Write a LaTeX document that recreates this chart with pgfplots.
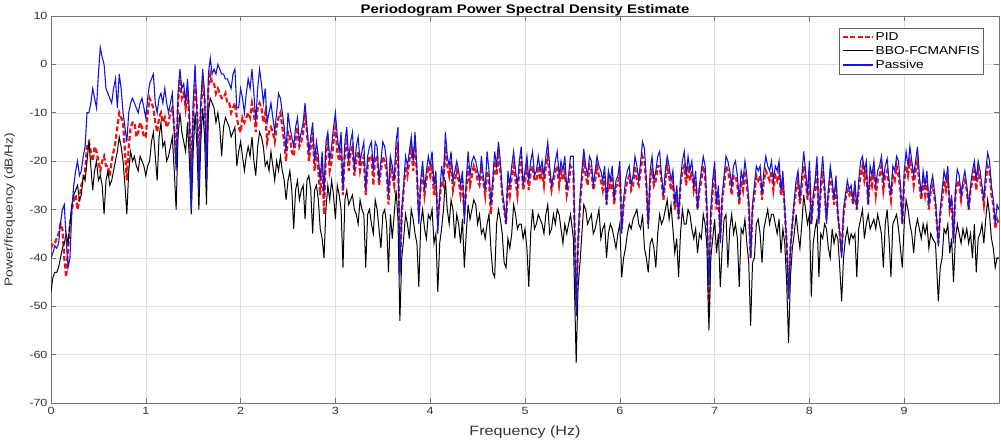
\documentclass[border=0pt]{standalone}
\usepackage{pgfplots}
\pgfplotsset{compat=1.18}
\usepackage{pgfplotstable}
\usepackage{fontspec}
\setmainfont[FakeStretch=1.2]{Liberation Sans}
\definecolor{psvblue}{rgb}{0.08,0.08,0.88}
\definecolor{pidred}{rgb}{0.92,0.08,0.08}
\pgfplotstableread{
x P R B
0.00 -40 -38 -47
0.02 -39 -37 -44
0.04 -37.5 -37 -43
0.06 -38 -36 -43
0.08 -37 -35 -42
0.10 -33 -33 -40
0.12 -30 -34 -38
0.14 -29 -40 -37
0.16 -36 -44 -35
0.18 -42 -38 -37
0.20 -40 -33 -33
0.22 -30 -30 -29
0.24 -25 -28 -27
0.26 -22 -27 -26
0.28 -20 -30 -25
0.30 -23 -28 -28
0.32 -22 -25 -27
0.34 -19 -24 -23
0.36 -17 -22 -24
0.38 -10 -17 -20
0.40 -10 -16 -16
0.42 -8 -18 -21
0.44 -5 -20 -26
0.46 -7 -17 -22
0.48 -9 -18 -20
0.50 -2 -20 -24
0.52 3.5 -22 -23
0.54 1.5 -20 -25
0.56 0 -19 -31
0.58 -5 -21 -24
0.60 -6 -21 -22
0.62 -7 -23 -25
0.64 -8 -20 -24
0.66 -5 -18 -22
0.68 -3 -16 -20
0.70 -9 -13 -18
0.72 -2 -10 -15
0.74 -5 -11 -17
0.76 -10 -12 -20
0.78 -13 -18 -25
0.80 -16 -24 -31
0.82 -10 -17 -22
0.84 -8 -13 -18
0.86 -7 -12 -20
0.88 -8 -12 -19
0.90 -9 -15 -21
0.92 -10 -14 -22
0.94 -8 -12 -19
0.96 -7 -13 -20
0.98 -9 -15 -21
1.00 -11 -15 -23
1.02 -7 -10 -21
1.04 -4 -7 -20
1.06 -3 -8 -16
1.08 -2 -9 -14
1.10 -8 -12 -19
1.12 -10 -14 -24
1.14 -7 -11 -15
1.16 -6 -10 -12
1.18 -8 -12 -17
1.20 -5 -11 -16
1.22 -8 -13 -20
1.24 -10 -12 -19
1.26 -8 -10 -17
1.28 -6 -9 -15
1.30 -14 -13 -22
1.32 -22 -20 -30
1.34 -6 -8 -15
1.36 -1 -3 -10
1.38 -5 -7 -14
1.40 -4 -6 -16
1.42 -8 -9 -18
1.44 -3 -5 -12
1.46 -10 -12 -20
1.48 -30 -22 -31
1.50 -8 -10 -18
1.52 0 -4 -10
1.54 -10 -9 -17
1.56 -26 -20 -30
1.58 -8 -9 -16
1.60 -1 -4 -9
1.62 -6 -7 -15
1.64 -24 -18 -29
1.66 -2 -5 -10
1.68 1.3 -2 -7
1.70 -2 -4 -8
1.72 -1 -4 -9
1.74 -2 -6 -12
1.76 0 -5 -10
1.78 -1 -6 -13
1.80 -2 -7 -19
1.82 -2 -7 -13
1.84 -3 -6 -11
1.86 -3 -8 -12
1.88 -4 -8 -13
1.90 -5 -10 -15
1.92 -2 -9 -14
1.94 -1 -8 -13
1.96 -9 -11 -21
1.98 -9 -13 -18
2.00 -5 -14 -16
2.02 -7 -11 -19
2.04 -10 -12 -22
2.06 -6 -11 -19
2.08 -3 -10 -17
2.10 -5 -11 -19
2.12 -1 -8 -15
2.14 -6 -10 -20
2.16 -12 -14 -23
2.18 -5 -9 -17
2.20 -1 -8 -14
2.22 -4 -9 -15
2.24 -8 -12 -17
2.26 -5 -10 -21
2.28 -12 -16 -20
2.30 -10 -14 -22
2.32 -8 -13 -18
2.34 -11 -14 -21
2.36 -14 -16 -24
2.38 -10 -13 -20
2.40 -6 -11 -22
2.42 -7 -10 -19
2.44 -10 -13 -22
2.46 -13 -16 -24
2.48 -18 -20 -28
2.50 -10 -14 -24
2.52 -13 -15 -22
2.54 -15 -18 -26
2.56 -17 -19 -34
2.58 -13 -16 -26
2.60 -11 -13 -24
2.62 -16 -17 -28
2.64 -14 -16 -26
2.66 -12 -14 -25
2.68 -8 -10 -32
2.70 -13 -14 -24
2.72 -18 -20 -23
2.74 -15 -17 -26
2.76 -12 -14 -35
2.78 -20 -22 -26
2.80 -16 -18 -25
2.82 -19 -22 -28
2.84 -24 -27 -34
2.86 -18 -20 -36
2.88 -27 -31 -40
2.90 -16 -18 -30
2.92 -14 -16 -25
2.94 -20 -22 -28
2.96 -17 -20 -24
2.98 -13 -16 -27
3.00 -10 -13 -32
3.02 -15 -18 -25
3.04 -18 -20 -27
3.06 -14 -17 -30
3.08 -26 -27 -42
3.10 -16 -18 -28
3.12 -13 -16 -26
3.14 -20 -22 -29
3.16 -16 -18 -28
3.18 -14 -17 -27
3.20 -22 -23 -30
3.22 -17 -20 -31
3.24 -15 -18 -33
3.26 -20 -22 -28
3.28 -18 -20 -30
3.30 -16 -19 -31
3.32 -26 -27 -42
3.34 -19 -21 -31
3.36 -17 -19 -30
3.38 -16 -19 -33
3.40 -22 -25 -35
3.42 -16 -19 -28
3.44 -17 -19 -30
3.46 -24 -25 -34
3.48 -20 -22 -38
3.50 -16 -19 -31
3.52 -17 -20 -30
3.54 -20 -22 -33
3.56 -27 -29 -43
3.58 -19 -21 -31
3.60 -21 -23 -36
3.62 -24 -25 -31
3.64 -16 -19 -26
3.66 -13 -16 -32
3.68 -44 -43 -53
3.70 -30 -31 -40
3.72 -25 -26 -36
3.74 -19 -21 -31
3.76 -21 -23 -33
3.78 -18 -20 -36
3.80 -15 -17 -30
3.82 -20 -22 -32
3.84 -14 -16 -35
3.86 -22 -23 -37
3.88 -33 -31 -46
3.90 -24 -25 -33
3.92 -20 -22 -30
3.94 -26 -27 -34
3.96 -22 -24 -36
3.98 -19 -21 -31
4.00 -21 -23 -32
4.02 -18 -21 -30
4.04 -25 -27 -37
4.06 -22 -24 -35
4.08 -35 -32 -47
4.10 -27 -28 -37
4.12 -21 -24 -34
4.14 -24 -25 -30
4.16 -14 -17 -24
4.18 -19 -21 -30
4.20 -21 -23 -33
4.22 -18 -20 -28
4.24 -24 -26 -30
4.26 -22 -24 -36
4.28 -20 -22 -31
4.30 -22 -24 -33
4.32 -25 -27 -37
4.34 -22 -24 -32
4.36 -33 -31 -42
4.38 -24 -26 -35
4.40 -18 -21 -29
4.42 -23 -25 -32
4.44 -20 -23 -30
4.46 -19 -21 -28
4.48 -20 -22 -29
4.50 -22 -24 -33
4.52 -24 -25 -31
4.54 -19 -22 -35
4.56 -23 -24 -34
4.58 -26 -27 -36
4.60 -18 -22 -33
4.62 -22 -24 -31
4.64 -29 -31 -38
4.66 -24 -25 -43
4.68 -18 -20 -44
4.70 -21 -23 -33
4.72 -16 -19 -30
4.74 -20 -22 -32
4.76 -26 -27 -35
4.78 -29 -30 -41
4.80 -33 -33 -42
4.82 -22 -24 -36
4.84 -25 -27 -38
4.86 -21 -23 -35
4.88 -18 -21 -29
4.90 -22 -24 -31
4.92 -25 -27 -34
4.94 -20 -22 -33
4.96 -17 -19 -33
4.98 -25 -26 -36
5.00 -22 -24 -34
5.02 -19 -21 -38
5.04 -24 -26 -46
5.06 -20 -22 -35
5.08 -18 -21 -30
5.10 -23 -24 -34
5.12 -22 -24 -33
5.14 -19 -21 -31
5.16 -22 -24 -32
5.18 -20 -22 -33
5.20 -23 -25 -35
5.22 -19 -21 -31
5.24 -16 -19 -29
5.26 -21 -23 -35
5.28 -25 -26 -34
5.30 -23 -24 -31
5.32 -20 -22 -33
5.34 -18 -21 -30
5.36 -23 -25 -31
5.38 -20 -22 -34
5.40 -22 -24 -37
5.42 -19 -22 -33
5.44 -26 -27 -35
5.46 -23 -25 -33
5.48 -19 -21 -31
5.51 -19 -22 -36
5.54 -52 -50 -61.7
5.56 -36 -37 -46
5.58 -28 -29 -41
5.60 -22 -24 -35
5.62 -17.5 -20 -29
5.64 -21 -23 -30
5.66 -23 -25 -33
5.68 -19 -21 -32
5.70 -20 -22 -31
5.72 -25 -26 -35
5.74 -22 -24 -34
5.76 -19 -21 -32
5.78 -21 -23 -30
5.80 -22 -24 -36
5.82 -24 -26 -34
5.84 -21 -23 -33
5.86 -29 -29 -40
5.88 -22 -24 -35
5.90 -24 -26 -33
5.92 -21 -23 -34
5.94 -28 -29 -36
5.96 -24 -25 -38
5.98 -23 -25 -35
6.00 -20 -22 -33
6.02 -35 -34 -44
6.04 -28 -29 -40
6.06 -24 -26 -38
6.08 -22 -24 -35
6.10 -21 -23 -33
6.12 -25 -26 -34
6.14 -23 -25 -32
6.16 -19 -21 -31
6.18 -21 -24 -30
6.20 -24 -25 -33
6.22 -20 -22 -34
6.24 -16 -19 -31
6.26 -17.5 -20 -38
6.28 -24 -25 -40
6.30 -34 -33 -43
6.32 -22 -24 -37
6.34 -19 -22 -36
6.36 -24 -25 -38
6.38 -22 -24 -42
6.40 -19 -21 -35
6.42 -18 -21 -31
6.44 -23 -24 -33
6.46 -27 -28 -32
6.48 -22 -24 -30
6.50 -19 -21 -28
6.52 -21 -23 -32
6.54 -24 -26 -29
6.56 -22 -24 -34
6.58 -29 -30 -39
6.60 -25 -27 -36
6.62 -32 -32 -44
6.64 -24 -25 -35
6.66 -20 -22 -30
6.68 -18 -21 -33
6.70 -23 -25 -33
6.72 -19 -21 -30
6.74 -22 -24 -31
6.76 -20 -22 -34
6.78 -25 -26 -36
6.80 -22 -24 -34
6.82 -30 -30 -39
6.84 -25 -26 -35
6.86 -22 -24 -36
6.88 -19 -21 -31
6.90 -21 -23 -33
6.92 -30 -31 -38
6.94 -46 -52 -55
6.96 -30 -32 -40
6.98 -24 -26 -36
7.00 -20 -22 -32
7.02 -29 -30 -39
7.04 -25 -27 -35
7.06 -37 -36 -46
7.08 -27 -28 -38
7.10 -23 -25 -32
7.12 -19 -21 -31
7.14 -20 -22 -42
7.16 -22 -24 -34
7.18 -25 -27 -31
7.20 -21 -23 -35
7.22 -20 -23 -33
7.24 -23 -25 -36
7.26 -28 -29 -46
7.28 -22 -24 -34
7.30 -24 -26 -35
7.32 -20 -22 -32
7.34 -23 -25 -37
7.36 -28 -29 -41
7.38 -40 -40 -54
7.40 -29 -30 -41
7.42 -25 -27 -40
7.44 -21 -23 -33
7.46 -22 -24 -32
7.48 -21 -23 -35
7.50 -27 -28 -41
7.52 -22 -24 -34
7.54 -19 -22 -32
7.56 -21 -23 -30
7.58 -22 -24 -33
7.60 -20 -22 -31
7.62 -24 -26 -31
7.64 -21 -23 -33
7.66 -22 -24 -35
7.68 -20 -22 -32
7.70 -26 -27 -39
7.72 -22 -24 -34
7.74 -30 -30 -37
7.76 -37 -37 -45
7.78 -48.6 -47 -57.6
7.80 -38 -38 -44
7.82 -33 -33 -38
7.84 -28 -29 -35
7.86 -24 -26 -31
7.88 -22 -24 -35
7.90 -28 -29 -38
7.92 -23 -25 -33
7.94 -18 -21 -27
7.96 -22 -24 -30
7.98 -27 -28 -33
8.00 -20 -22 -31
8.02 -33 -33 -48
8.04 -27 -28 -37
8.06 -24 -26 -34
8.08 -19 -21 -32
8.10 -33 -32 -44
8.12 -24 -26 -35
8.14 -19 -22 -36
8.16 -25 -26 -33
8.18 -33 -32 -34
8.20 -26 -27 -38
8.22 -21 -23 -40
8.24 -24 -25 -34
8.26 -28 -29 -37
8.28 -23 -25 -35
8.30 -31 -31 -36
8.32 -35 -35 -42
8.34 -40 -39 -49
8.36 -30 -31 -40
8.38 -27 -28 -36
8.40 -24 -26 -34
8.42 -26 -27 -37
8.44 -25 -26 -35
8.46 -28 -29 -36
8.48 -24 -26 -35
8.50 -30 -30 -44
8.52 -24 -26 -34
8.54 -20 -23 -32
8.56 -19 -21 -30
8.58 -22 -24 -36
8.60 -20 -22 -33
8.62 -29 -29 -31
8.64 -21 -23 -34
8.66 -23 -25 -33
8.68 -20 -22 -32
8.70 -25 -27 -34
8.72 -22 -24 -31
8.74 -21 -23 -33
8.76 -19 -21 -35
8.78 -24 -26 -42
8.80 -21 -23 -33
8.82 -19.5 -22 -30
8.84 -24 -25 -36
8.86 -27 -28 -44
8.88 -21 -23 -33
8.90 -22 -24 -32
8.92 -19 -21 -31
8.94 -20 -23 -34
8.96 -25 -26 -38
8.98 -33 -33 -42
9.00 -22 -24 -33
9.02 -18 -21 -28
9.04 -21 -23 -30
9.06 -17 -20 -33
9.08 -20 -22 -35
9.10 -23 -25 -39
9.12 -20 -22 -34
9.14 -17 -20 -32
9.16 -23 -25 -34
9.18 -27 -28 -36
9.20 -22 -24 -33
9.22 -25 -27 -35
9.24 -22 -24 -33
9.26 -29 -30 -38
9.28 -25 -26 -35
9.30 -23 -25 -36
9.33 -28 -29 -37
9.36 -37.6 -37 -49
9.38 -30 -31 -42
9.40 -26 -28 -40
9.42 -22 -24 -34
9.44 -24 -26 -35
9.46 -21 -23 -33
9.48 -30 -30 -39
9.50 -27 -28 -36
9.52 -37 -36 -45
9.54 -26 -27 -36
9.56 -21.7 -24 -33
9.58 -23 -25 -35
9.60 -27 -28 -37
9.62 -24 -25 -34
9.64 -22 -24 -36
9.66 -25 -26 -34
9.68 -30 -30 -37
9.70 -25 -26 -35
9.72 -22 -24 -40
9.74 -20 -22 -33
9.76 -24 -26 -43
9.78 -20 -22 -36
9.80 -22 -24 -35
9.82 -25 -26 -33
9.84 -28 -29 -37
9.86 -22 -24 -32
9.88 -18.3 -21 -28
9.90 -20 -22 -31
9.92 -25 -27 -36
9.94 -28 -29 -38
9.96 -33 -34 -42
9.98 -29 -32 -40
10.00 -30 -33 -40
}\data
\begin{document}
\begin{tikzpicture}
\useasboundingbox (-51bp,-38bp) rectangle (950bp,403bp);
\begin{axis}[
  at={(0,0)}, anchor=south west,
  scale only axis, width=948bp, height=387bp,
  xmin=0, xmax=10, ymin=-70, ymax=10,
  xtick={0,1,...,9}, ytick={-70,-60,...,10},
  grid=major, major grid style={black!12, line width=0.5pt},
  axis line style={black!55, line width=0.6pt},
  tick style={black!55, line width=0.6pt},
  tick align=inside, major tick length=5bp,
  xtick pos=both, ytick pos=both,
  ticklabel style={font=\fontsize{10.5}{12}\selectfont, text=black!80},
  xticklabel style={yshift=-1bp},
  /pgf/number format/assume math mode=true,
  xlabel={Frequency (Hz)}, ylabel={Power/frequency (dB/Hz)},
  xlabel style={font=\fontsize{13.5}{14}\selectfont, text=black!80, at={(0.5,0)}, anchor=center, yshift=-29bp},
  ylabel style={font=\fontsize{11.5}{13}\selectfont, text=black!80, at={(axis description cs:-0.0435,0.5)}, anchor=center, rotate=0},
  title={Periodogram Power Spectral Density Estimate},
  title style={font=\bfseries\fontsize{12.5}{13}\selectfont, at={(0.5,1)}, anchor=base, yshift=-3bp, inner sep=0pt},
  legend style={at={(0.984,0.969)}, anchor=north east, font=\fontsize{11.5}{13}\selectfont, draw=black!60, line width=0.6pt, inner sep=2pt, row sep=0.5pt, cells={anchor=west}},
  legend cell align=left,
  legend image code/.code={\draw[#1] (0bp,0bp) -- (30bp,0bp);},
]
\addplot[pidred, line width=2.2pt, dash pattern=on 5pt off 2.5pt] table[x=x,y=R]{\data};
\addlegendentry{PID}
\addplot[black, line width=1pt] table[x=x,y=B]{\data};
\addlegendentry{BBO-FCMANFIS}
\addplot[psvblue, line width=1.1pt] table[x=x,y=P]{\data};
\addlegendentry{Passive}
\end{axis}
\end{tikzpicture}
\end{document}
